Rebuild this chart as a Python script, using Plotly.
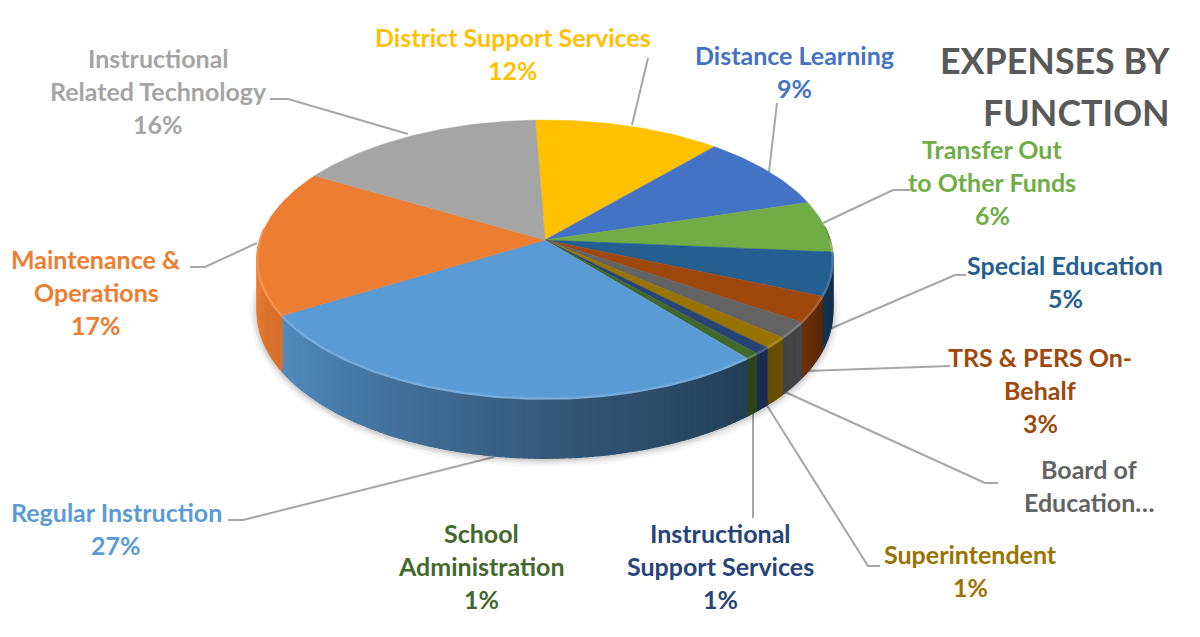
import math
import numpy as np
import plotly.graph_objects as go

# Data, clockwise from the start of the pie
categories = ["District Support Services", "Distance Learning", "Transfer Out to Other Funds",
              "Special Education", "TRS & PERS On-Behalf", "Board of Education…", "Superintendent",
              "Instructional Support Services", "School Administration", "Regular Instruction",
              "Maintenance & Operations", "Instructional Related Technology"]
values = [12, 9, 6, 5, 3, 1.9, 1.3, 0.8, 0.7, 27.3, 17, 16]
colors = ["#FFC000", "#4472C4", "#70AD47", "#255E91", "#9E480E", "#636363", "#997300",
          "#264478", "#43682B", "#5B9BD5", "#ED7D31", "#A5A5A5"]
label_lines = [["District Support Services"], ["Distance Learning"], ["Transfer Out", "to Other Funds"],
               ["Special Education"], ["TRS & PERS On-", "Behalf"], ["Board of", "Education…"],
               ["Superintendent"], ["Instructional", "Support Services"], ["School", "Administration"],
               ["Regular Instruction"], ["Maintenance &", "Operations"], ["Instructional", "Related Technology"]]
show_percent = [True, True, True, True, True, False, True, True, True, True, True, True]
label_xy = [(513, 37), (794, 55), (992, 149), (1065, 265), (1040, 357), (1089, 469), (970, 554),
            (720, 533), (481, 533), (116, 512), (96, 259), (158, 58)]
leaders = [[(648, 58), (632, 125)], [(777, 103), (769, 172)], [(910, 190), (893, 190), (823, 223)],
           [(966, 275), (955, 275), (825, 331)], [(950, 366), (806, 371)],
           [(998, 483), (985, 483), (783, 391)], [(880, 566), (868, 566), (766, 404)],
           [(753, 518), (753, 412)], [], [(228, 520), (243, 520), (494, 457)],
           [(190, 267), (205, 267), (257, 243)], [(270, 99), (288, 99), (408, 134)]]
title_lines = ["EXPENSES BY", "FUNCTION"]

# Pie projection (perspective view of a tilted disc), on a 1200x637 pixel-like scale
CX, CY, A, B, K, DEPTH, START = 545, 240, 285, 136.4, 0.137, 52, 92.2


def project(theta_deg, drop=0.0):
    t = math.radians(theta_deg)
    u, v = math.cos(t), math.sin(t)
    w = 1 + K * v
    return CX + A * u / w, CY - B * v / w + drop / w


def mix(hex_color, f):
    r, g, b = int(hex_color[1:3], 16), int(hex_color[3:5], 16), int(hex_color[5:7], 16)
    if f <= 1:
        r, g, b = r * f, g * f, b * f
    else:
        r, g, b = r + (255 - r) * (f - 1), g + (255 - g) * (f - 1), b + (255 - b) * (f - 1)
    return f"rgb({int(r)},{int(g)},{int(b)})"


def shade(theta_deg):
    a = theta_deg % 360
    if a < 90:
        return 0.5
    if a < 309.3:
        return float(np.interp(a, [180, 211, 270, 309.3], [1.0, 0.9, 0.58, 0.4]))
    return float(np.interp(a, [309.3, 325, 337, 360], [0.66, 0.7, 0.55, 0.5]))


fig = go.Figure()
spans, angle = [], START
total = sum(values)
for val in values:
    spans.append((angle, angle - 360 * val / total))
    angle -= 360 * val / total

# soft drop shadow below the wall
for width, alpha in [(16, 0.03), (11, 0.04), (7, 0.05), (3, 0.07)]:
    pts = [project(-a, DEPTH + 1) for a in range(-4, 184, 2)]
    fig.add_trace(go.Scatter(x=[p[0] for p in pts], y=[p[1] for p in pts], mode="lines",
                             line=dict(color=f"rgba(0,0,0,{alpha})", width=width),
                             hoverinfo="skip", showlegend=False))

# side walls, painted so that each strip overlaps the previous one to hide seams
STEP = 1.0
for (a0, a1), col in zip(spans, colors):
    a = a0
    while a > a1 + 1e-6:
        b = max(a - STEP, a1)
        mid = (a + b) / 2
        if math.sin(math.radians(mid)) < 0.09:
            p = [project(a), project(b), project(b, DEPTH), project(a, DEPTH)]
            c = mix(col, shade(mid))
            fig.add_trace(go.Scatter(x=[q[0] for q in p] + [p[0][0]], y=[q[1] for q in p] + [p[0][1]],
                                     mode="lines", fill="toself", fillcolor=c,
                                     line=dict(color=c, width=1.2), hoverinfo="skip", showlegend=False))
        a = b

# top wedges
for (a0, a1), col, name in zip(spans, colors, categories):
    n = max(int(abs(a0 - a1)), 2)
    arc = [project(a0 + (a1 - a0) * i / n) for i in range(n + 1)]
    xs = [CX] + [q[0] for q in arc] + [CX]
    ys = [CY] + [q[1] for q in arc] + [CY]
    fig.add_trace(go.Scatter(x=xs, y=ys, mode="lines", fill="toself", fillcolor=col,
                             line=dict(color=col, width=0.5), name=name, hoverinfo="name", showlegend=False))

# bevel highlight along the front rim
for (a0, a1), col in zip(spans, colors):
    lo, hi = max(a1, -185), min(a0, 0)
    if hi > lo:
        n = max(int(hi - lo), 2)
        arc = [project(hi + (lo - hi) * i / n, 0.5) for i in range(n + 1)]
        fig.add_trace(go.Scatter(x=[q[0] for q in arc], y=[q[1] for q in arc], mode="lines",
                                 line=dict(color=mix(col, 1.16), width=2.5),
                                 hoverinfo="skip", showlegend=False))

# leader lines
shapes = []
for pts in leaders:
    if pts:
        path = "M " + " L ".join(f"{x} {y}" for x, y in pts)
        shapes.append(dict(type="path", path=path, xref="x", yref="y",
                           line=dict(color="#A6A6A6", width=2), layer="below"))

# labels, one annotation per text line
annotations = []
LINE = 33
FONT = "Lato, 'Open Sans', sans-serif"
for lines, (lx, ly), col, val, show in zip(label_lines, label_xy, colors, values, show_percent):
    texts = list(lines) + ([f"{round(val)}%"] if show else [])
    for i, t in enumerate(texts):
        annotations.append(dict(x=lx, y=ly + i * LINE, xref="x", yref="y", text=f"<b>{t}</b>",
                                showarrow=False, xanchor="center", yanchor="middle",
                                font=dict(family=FONT, size=25, color=col)))
for i, t in enumerate(title_lines):
    annotations.append(dict(x=1172, y=60 + i * 52, xref="x", yref="y", text=f"<b>{t}</b>",
                            showarrow=False, xanchor="right", yanchor="middle",
                            font=dict(family=FONT, size=35.8, color="#595959")))

fig.update_layout(width=1200, height=637, margin=dict(l=0, r=0, t=0, b=0),
                  paper_bgcolor="white", plot_bgcolor="white", showlegend=False,
                  shapes=shapes, annotations=annotations,
                  xaxis=dict(range=[0, 1200], visible=False, fixedrange=True),
                  yaxis=dict(range=[637, 0], visible=False, fixedrange=True))
fig.write_html("out.html", config={"displayModeBar": False},
               post_script="document.body.style.margin='0';document.documentElement.style.overflow='hidden';")
